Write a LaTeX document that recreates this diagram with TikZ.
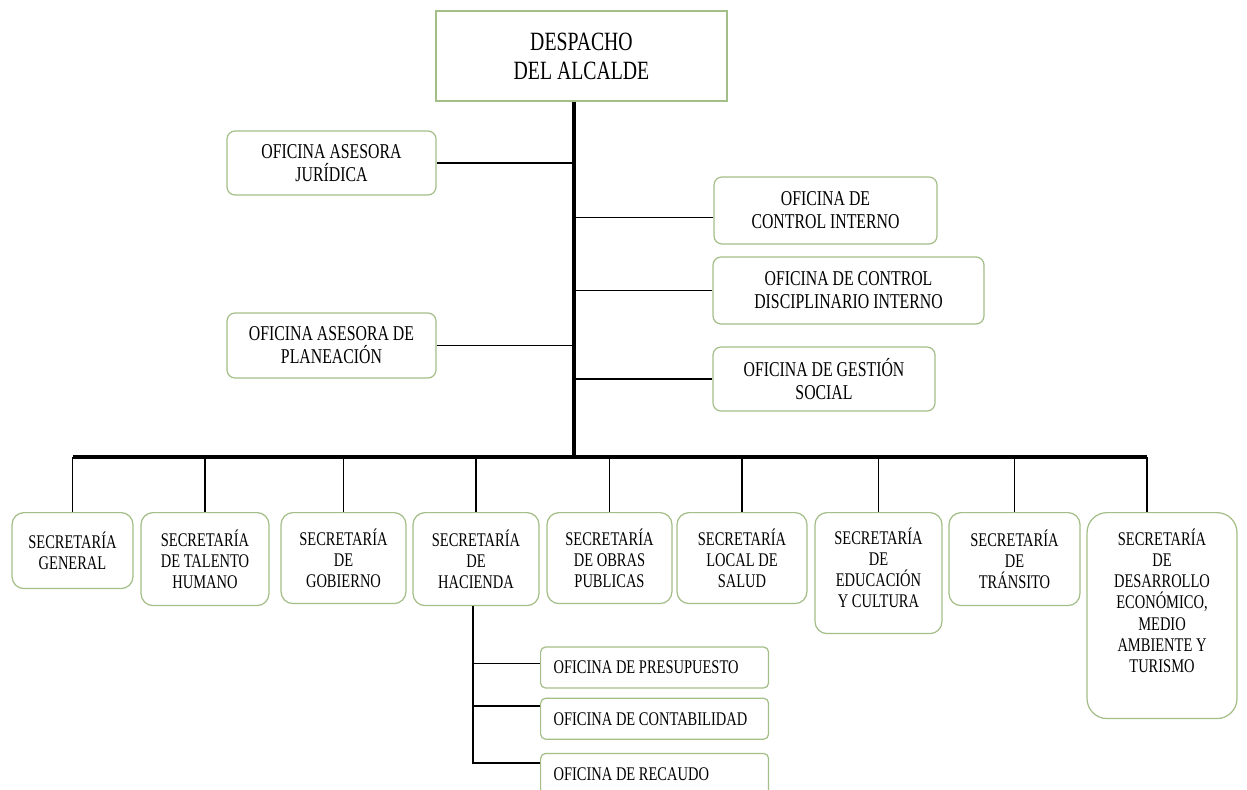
\documentclass[tikz,border=0pt]{standalone}
\usepackage{fontspec}
\setmainfont{Liberation Serif}[FakeStretch=0.75]
\usepackage{tikz}
\usetikzlibrary{positioning}
\definecolor{boxgreen}{RGB}{164,190,136}

\begin{document}
\begin{tikzpicture}[x=0.02cm, y=-0.02cm,
  mainbox/.style={draw=boxgreen, line width=0.7pt, fill=white, align=center, font=\fontsize{15}{16.5}\selectfont},
  offbox/.style={draw=boxgreen, line width=0.7pt, fill=white, rounded corners=0.16cm, align=center, font=\fontsize{12}{13}\selectfont},
  secbox/.style={draw=boxgreen, line width=0.7pt, fill=white, rounded corners=0.24cm, align=center, anchor=north, font=\fontsize{11}{12}\selectfont},
  subbox/.style={draw=boxgreen, line width=0.7pt, fill=white, rounded corners=0.1cm, anchor=west, align=flush left, text width=4.04cm, inner xsep=0.26cm, inner ysep=2pt, minimum height=0.82cm, font=\fontsize{11}{12}\selectfont},
  trunk/.style={line width=1.9pt},
  link/.style={line width=0.9pt}]
\useasboundingbox (0,0) rectangle (1247,790);

\node[mainbox, minimum width=5.82cm, minimum height=1.8cm] (alc) at (581.5,56) {DESPACHO\\DEL ALCALDE};

\node[offbox, minimum width=4.18cm, minimum height=1.28cm] (jur) at (331.5,163) {OFICINA ASESORA\\JURÍDICA};
\node[offbox, minimum width=4.18cm, minimum height=1.3cm] (pla) at (331.5,345.5) {OFICINA ASESORA DE\\PLANEACIÓN};
\node[offbox, minimum width=4.46cm, minimum height=1.34cm] (cin) at (825.5,210.5) {OFICINA DE\\CONTROL INTERNO};
\node[offbox, minimum width=5.42cm, minimum height=1.34cm] (cdi) at (848.5,290.5) {OFICINA DE CONTROL\\DISCIPLINARIO INTERNO};
\node[offbox, minimum width=4.44cm, minimum height=1.28cm] (gso) at (824,379) {OFICINA DE GESTIÓN\\SOCIAL};

\node[secbox, minimum width=2.42cm, minimum height=1.52cm] (gen) at (72.5,512) {SECRETARÍA\\GENERAL};
\node[secbox, minimum width=2.56cm, minimum height=1.86cm] (tal) at (205,512) {SECRETARÍA\\DE TALENTO\\HUMANO};
\node[secbox, minimum width=2.5cm, minimum height=1.82cm] (gob) at (343.5,512) {SECRETARÍA\\DE\\GOBIERNO};
\node[secbox, minimum width=2.52cm, minimum height=1.86cm] (hac) at (476,512) {SECRETARÍA\\DE\\HACIENDA};
\node[secbox, minimum width=2.5cm, minimum height=1.82cm] (obr) at (609.5,512) {SECRETARÍA\\DE OBRAS\\PUBLICAS};
\node[secbox, minimum width=2.6cm, minimum height=1.82cm] (sal) at (742,512) {SECRETARÍA\\LOCAL DE\\SALUD};
\node[secbox, minimum width=2.54cm, inner ysep=0.3cm] (edu) at (878.5,512)
  {\parbox[c][1.82cm][t]{2.3cm}{\centering SECRETARÍA\\DE\\EDUCACIÓN\\Y CULTURA}};
\node[secbox, minimum width=2.62cm, minimum height=1.86cm] (tra) at (1014.5,512) {SECRETARÍA\\DE\\TRÁNSITO};
\node[secbox, minimum width=3cm, inner ysep=0.33cm, rounded corners=0.4cm] (des) at (1162,512)
  {\parbox[c][3.46cm][t]{2.7cm}{\centering SECRETARÍA\\DE\\DESARROLLO\\ECONÓMICO,\\MEDIO\\AMBIENTE Y\\TURISMO}};

\node[subbox] (pre) at (540,667.5) {OFICINA DE PRESUPUESTO};
\node[subbox, below=0.18cm of pre.south west, anchor=north west] (con) {OFICINA DE CONTABILIDAD};
\node[subbox, below=0.26cm of con.south west, anchor=north west] (rec) {OFICINA DE RECAUDO};

\coordinate (top) at ([xshift=-0.15cm]alc.south);
\coordinate (mid) at (top |- 0,457);
\coordinate (barL) at (gen.north |- mid);
\coordinate (barR) at ([xshift=-0.3cm]des.north |- mid);
\coordinate (hdrop) at ([xshift=-0.06cm]hac.south);

\draw[trunk] (top) -- (mid);
\draw[trunk] (barL) -- (barR);

\draw[link] (jur.east) -- (jur.east -| top);
\draw[link] (pla.east) -- (pla.east -| top);
\draw[link] ([yshift=-0.14cm]cin.west) -- ([yshift=-0.14cm]cin.west -| top);
\draw[link] (cdi.west) -- (cdi.west -| top);
\draw[link] (gso.west) -- (gso.west -| top);

\foreach \s in {gen,tal,gob,hac,obr,sal,edu,tra}
  \draw[link] (\s.north) -- (\s.north |- mid);
\draw[link] ([xshift=-0.3cm]des.north) -- (barR);

\draw[link] (hdrop) |- ([yshift=0.22cm]rec.west);
\draw[link] ([yshift=0.08cm]pre.west) -- ([yshift=0.08cm]pre.west -| hdrop);
\draw[link] ([yshift=0.26cm]con.west) -- ([yshift=0.26cm]con.west -| hdrop);
\end{tikzpicture}
\end{document}
